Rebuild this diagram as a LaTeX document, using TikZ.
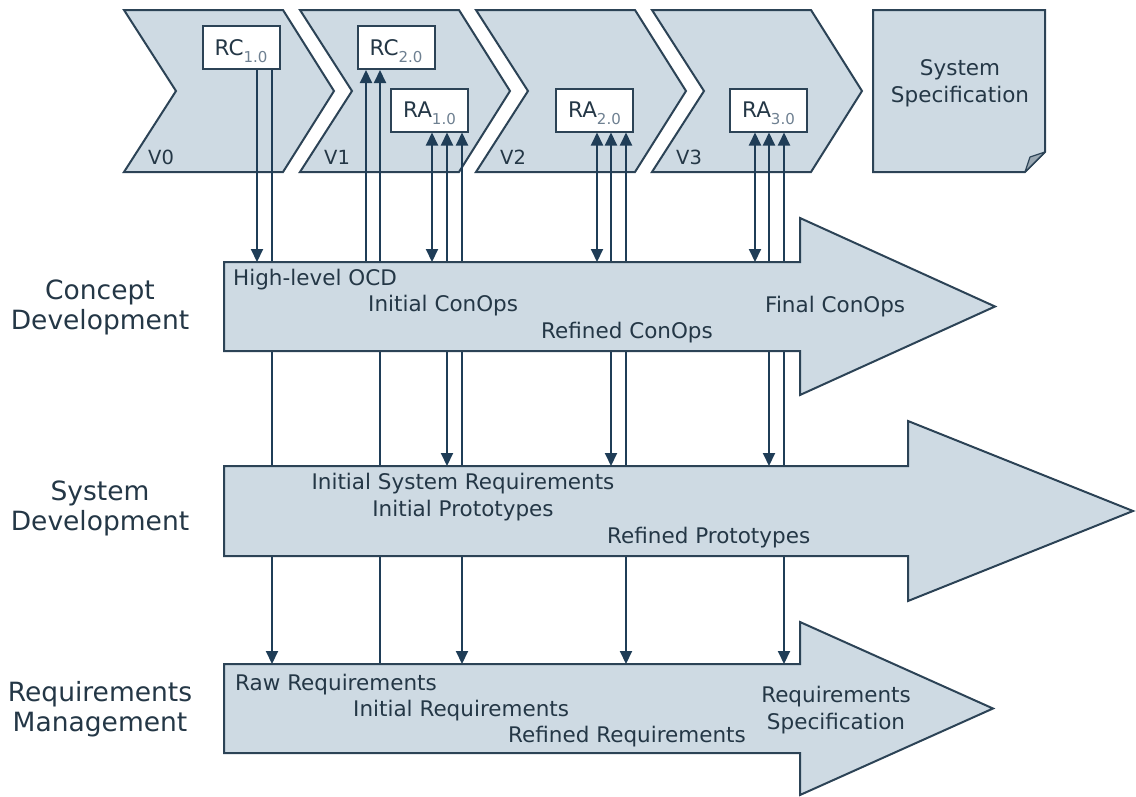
\documentclass[tikz,border=0pt]{standalone}
\usepackage{fontspec}
\setmainfont{DejaVu Sans}
\usetikzlibrary{arrows.meta}
\definecolor{fillc}{HTML}{CEDAE3}
\definecolor{edgec}{HTML}{2C4356}
\definecolor{textc}{HTML}{243746}
\definecolor{linkc}{HTML}{1F3D57}
\definecolor{subc}{HTML}{6E8091}
\definecolor{foldc}{HTML}{9AA8B3}
% release label with a small grey subscript
\newcommand{\rel}[2]{#1\raisebox{-7pt}[0pt][0pt]{\fontsize{15}{16}\selectfont\color{subc}#2}}
\begin{document}
\begin{tikzpicture}[x=1pt,y=-1pt,
  shapefill/.style={fill=fillc,draw=edgec,line width=2pt,line join=miter},
  lanetext/.style={font=\fontsize{21.5}{27}\selectfont,text=textc,inner sep=0pt},
  lanelabel/.style={font=\fontsize{26.5}{30}\selectfont,text=textc,align=center,inner sep=0pt},
  relbox/.style={draw=edgec,fill=white,line width=2pt,minimum width=77pt,minimum height=43pt,inner sep=0pt,font=\fontsize{21.5}{22}\selectfont,text=textc},
  link/.style={draw=linkc,line width=2pt},
  oneway/.style={link,-{Triangle[width=12pt,length=13pt]}},
  twoway/.style={link,{Triangle[width=12pt,length=13pt]}-{Triangle[width=12pt,length=13pt]}},
  vlabel/.style={font=\fontsize{19.5}{20}\selectfont,text=textc,anchor=west,inner sep=0pt},
]
\useasboundingbox (0,0) rectangle (1136,796);

% version chevrons
\foreach \i/\lab in {0/V0,1/V1,2/V2,3/V3}{
  \pgfmathsetmacro{\L}{124+176*\i}
  \draw[shapefill] (\L,10) -- (\L+159,10) -- (\L+210,91) -- (\L+159,172)
        -- (\L,172) -- (\L+52,91) -- cycle;
  \node[vlabel] (v\i) at (\L+24,157) {\lab};
}

% system specification sheet with folded corner
\draw[shapefill] (873,10) -- (1045,10) -- (1045,152) -- (1025,172) -- (873,172) -- cycle;
\draw[fill=foldc,draw=edgec,line width=1.2pt,line join=round] (1045,152) -- (1030,157) -- (1025,172) -- cycle;
\node[lanetext,align=center] (spec) at (960,83.5) {System\\Specification};

% release boxes
\node[relbox] (rc1) at (241,47.5)  {\rel{RC}{1.0}};
\node[relbox] (rc2) at (396,47.5)  {\rel{RC}{2.0}};
\node[relbox] (ra1) at (429.5,110) {\rel{RA}{1.0}};
\node[relbox] (ra2) at (594.5,110) {\rel{RA}{2.0}};
\node[relbox] (ra3) at (768.5,110) {\rel{RA}{3.0}};

% lane top edges and connector columns
\coordinate (cdtop) at (224,262);
\coordinate (sdtop) at (224,466);
\coordinate (rmtop) at (224,664);
\coordinate (c1a) at (257,0);
\coordinate (c1b) at (272,0);
\coordinate (c2a) at (366,0);
\coordinate (c2b) at (380,0);
\coordinate (a1a) at (432,0);
\coordinate (a1b) at (447,0);
\coordinate (a1c) at (462,0);
\coordinate (a2a) at (597,0);
\coordinate (a2b) at (611,0);
\coordinate (a2c) at (626,0);
\coordinate (a3a) at (755,0);
\coordinate (a3b) at (769,0);
\coordinate (a3c) at (784,0);

% connectors
\draw[oneway] (rc1.south -| c1a) -- (c1a |- cdtop);
\draw[oneway] (rc1.south -| c1b) -- (c1b |- rmtop);
\draw[oneway] (c2a |- cdtop) -- (rc2.south -| c2a);
\draw[oneway] (c2b |- rmtop) -- (rc2.south -| c2b);
\draw[twoway] (ra1.south -| a1a) -- (a1a |- cdtop);
\draw[twoway] (ra1.south -| a1b) -- (a1b |- sdtop);
\draw[twoway] (ra1.south -| a1c) -- (a1c |- rmtop);
\draw[twoway] (ra2.south -| a2a) -- (a2a |- cdtop);
\draw[twoway] (ra2.south -| a2b) -- (a2b |- sdtop);
\draw[twoway] (ra2.south -| a2c) -- (a2c |- rmtop);
\draw[twoway] (ra3.south -| a3a) -- (a3a |- cdtop);
\draw[twoway] (ra3.south -| a3b) -- (a3b |- sdtop);
\draw[twoway] (ra3.south -| a3c) -- (a3c |- rmtop);

% lane arrows
\draw[shapefill] (224,262) -- (800,262) -- (800,218) -- (995,306.5) -- (800,395)
      -- (800,351) -- (224,351) -- cycle;
\draw[shapefill] (224,466) -- (908,466) -- (908,421) -- (1133,511) -- (908,601)
      -- (908,556) -- (224,556) -- cycle;
\draw[shapefill] (224,664) -- (800,664) -- (800,622) -- (993,708.5) -- (800,795)
      -- (800,753) -- (224,753) -- cycle;

% lane names
\node[lanelabel] (cdname) at (100,307) {Concept\\Development};
\node[lanelabel] (sdname) at (100,508) {System\\Development};
\node[lanelabel] (rmname) at (100,709) {Requirements\\Management};

% concept development products
\node[lanetext,anchor=west] (ocd) at (233,280) {High-level OCD};
\node[lanetext,anchor=west] (ico) at (368,306) {Initial ConOps};
\node[lanetext,anchor=west] (rco) at (541,333) {Refined ConOps};
\node[lanetext,anchor=west] (fco) at (765,307) {Final ConOps};

% system development products
\node[lanetext,align=center] (isr) at (463,497.5) {Initial System Requirements\\Initial Prototypes};
\node[lanetext,anchor=west] (rpt) at (607,538) {Refined Prototypes};

% requirements management products
\node[lanetext,anchor=west] (raw) at (235,685) {Raw Requirements};
\node[lanetext,anchor=west] (ire) at (353,711) {Initial Requirements};
\node[lanetext,anchor=west] (rre) at (508,737) {Refined Requirements};
\node[lanetext,align=center] (rsp) at (836,710) {Requirements\\Specification};
\end{tikzpicture}
\end{document}
